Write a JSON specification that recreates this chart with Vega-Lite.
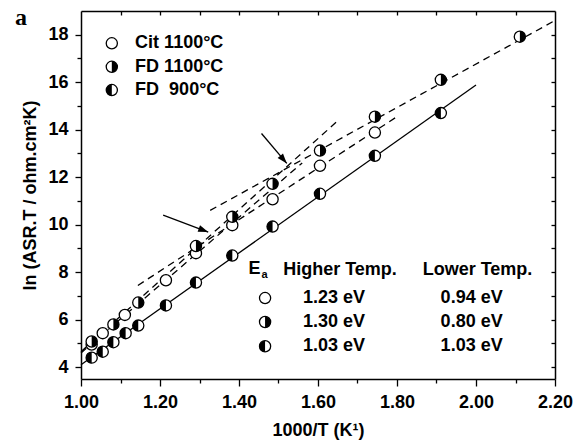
{
  "$schema": "https://vega.github.io/schema/vega-lite/v6.json",
  "width": 474,
  "height": 368,
  "autosize": "none",
  "padding": {"left": 81, "top": 11, "right": 20, "bottom": 69},
  "background": "white",
  "config": {
    "view": {"stroke": null},
    "font": "Liberation Sans",
    "axis": {"grid": false, "domainColor": "black", "domainWidth": 1.5, "tickColor": "black", "tickWidth": 1.3, "labelColor": "black", "titleColor": "black", "labelFont": "Liberation Sans", "titleFont": "Liberation Sans", "labelFontWeight": "bold", "titleFontWeight": "bold", "labelFontSize": 18, "titleFontSize": 18, "labelFlush": false, "labelOverlap": false}
  },
  "datasets": {
    "marks": [
      {"s": "Cit", "x": 1.027, "y": 4.95},
      {"s": "Cit", "x": 1.055, "y": 5.43},
      {"s": "Cit", "x": 1.111, "y": 6.2},
      {"s": "Cit", "x": 1.215, "y": 7.66},
      {"s": "Cit", "x": 1.291, "y": 8.8},
      {"s": "Cit", "x": 1.383, "y": 9.98},
      {"s": "Cit", "x": 1.485, "y": 11.07},
      {"s": "Cit", "x": 1.605, "y": 12.48},
      {"s": "Cit", "x": 1.744, "y": 13.88},
      {"s": "FD1100", "x": 1.027, "y": 5.08},
      {"s": "FD1100", "x": 1.082, "y": 5.8},
      {"s": "FD1100", "x": 1.145, "y": 6.72},
      {"s": "FD1100", "x": 1.291, "y": 9.1},
      {"s": "FD1100", "x": 1.383, "y": 10.33},
      {"s": "FD1100", "x": 1.485, "y": 11.72},
      {"s": "FD1100", "x": 1.605, "y": 13.12},
      {"s": "FD1100", "x": 1.744, "y": 14.55},
      {"s": "FD1100", "x": 1.911, "y": 16.1},
      {"s": "FD1100", "x": 2.111, "y": 17.92},
      {"s": "FD900", "x": 1.027, "y": 4.4},
      {"s": "FD900", "x": 1.055, "y": 4.65},
      {"s": "FD900", "x": 1.082, "y": 5.05},
      {"s": "FD900", "x": 1.113, "y": 5.43},
      {"s": "FD900", "x": 1.145, "y": 5.75},
      {"s": "FD900", "x": 1.215, "y": 6.6},
      {"s": "FD900", "x": 1.291, "y": 7.56},
      {"s": "FD900", "x": 1.383, "y": 8.7},
      {"s": "FD900", "x": 1.485, "y": 9.92},
      {"s": "FD900", "x": 1.605, "y": 11.3},
      {"s": "FD900", "x": 1.744, "y": 12.9},
      {"s": "FD900", "x": 1.911, "y": 14.7},
      {"s": "Cit", "x": 1.078, "y": 17.64},
      {"s": "FD1100", "x": 1.078, "y": 16.65},
      {"s": "FD900", "x": 1.078, "y": 15.67},
      {"s": "Cit", "x": 1.466, "y": 6.91},
      {"s": "FD1100", "x": 1.466, "y": 5.9},
      {"s": "FD900", "x": 1.466, "y": 4.88}
    ],
    "lines": [
      {"fit": "FD900", "x": 1.0, "y": 4.1},
      {"fit": "FD900", "x": 2.0, "y": 15.88},
      {"fit": "CitHigh", "x": 1.0, "y": 4.6},
      {"fit": "CitHigh", "x": 1.56, "y": 12.6},
      {"fit": "CitLow", "x": 1.144, "y": 7.44},
      {"fit": "CitLow", "x": 1.8, "y": 14.55},
      {"fit": "FD1100High", "x": 1.0, "y": 4.65},
      {"fit": "FD1100High", "x": 1.655, "y": 14.45},
      {"fit": "FD1100Low", "x": 1.327, "y": 10.6},
      {"fit": "FD1100Low", "x": 2.2, "y": 18.6}
    ],
    "arrows": [
      {"id": 1, "x": 1.208, "y": 10.4, "x2": 1.322, "y2": 9.69},
      {"id": 2, "x": 1.457, "y": 13.84, "x2": 1.521, "y2": 12.58}
    ],
    "legend": [
      {"t": "Cit 1100°C", "x": 1.137, "y": 17.64},
      {"t": "FD 1100°C", "x": 1.137, "y": 16.65},
      {"t": "FD\u00a0 900°C", "x": 1.137, "y": 15.67}
    ],
    "table": [
      {"t": "Higher Temp.", "x": 1.6557, "y": 8.1},
      {"t": "Lower Temp.", "x": 2.0038, "y": 8.1},
      {"t": "1.23 eV", "x": 1.6405, "y": 6.93},
      {"t": "0.94 eV", "x": 1.989, "y": 6.93},
      {"t": "1.30 eV", "x": 1.6405, "y": 5.92},
      {"t": "0.80 eV", "x": 1.989, "y": 5.92},
      {"t": "1.03 eV", "x": 1.6405, "y": 4.9},
      {"t": "1.03 eV", "x": 1.989, "y": 4.9}
    ],
    "ea": [{"t": "E", "x": 1.424, "y": 8.12}],
    "eaSub": [{"t": "a", "x": 1.4646, "y": 7.88}],
    "panel": [{"t": "a", "x": 0.848, "y": 18.41}]
  },
  "resolve": {"axis": {"x": "independent", "y": "independent"}},
  "layer": [
    {
      "data": {"name": "lines"},
      "transform": [{"filter": "datum.fit === 'FD900'"}],
      "mark": {"type": "line", "color": "black", "strokeWidth": 1.3},
      "encoding": {
        "x": {"field": "x", "type": "quantitative", "scale": {"domain": [1.0, 2.2], "nice": false, "zero": false},
          "axis": {"orient": "bottom", "values": [1.0, 1.2, 1.4, 1.6, 1.8, 2.0, 2.2], "format": ".2f", "tickSize": 7, "labelPadding": 7, "title": "1000/T (K¹)", "titlePadding": 10}},
        "y": {"field": "y", "type": "quantitative", "scale": {"domain": [3.5, 19], "nice": false, "zero": false},
          "axis": {"orient": "left", "values": [4, 6, 8, 10, 12, 14, 16, 18], "format": "d", "tickSize": 6, "labelPadding": 7, "title": "ln (ASR.T / ohm.cm²K)", "titlePadding": 8}},
        "detail": {"field": "fit"}
      }
    },
    {
      "data": {"name": "lines"},
      "transform": [{"filter": "datum.fit !== 'FD900'"}],
      "mark": {"type": "line", "color": "black", "strokeWidth": 1.3, "strokeDash": [7, 5]},
      "encoding": {
        "x": {"field": "x", "type": "quantitative", "scale": {"domain": [1.0, 2.2], "nice": false, "zero": false},
          "axis": {"orient": "bottom", "values": [1.1, 1.3, 1.5, 1.7, 1.9, 2.1], "labels": false, "domain": false, "tickSize": 4, "title": null}},
        "y": {"field": "y", "type": "quantitative", "scale": {"domain": [3.5, 19], "nice": false, "zero": false},
          "axis": {"orient": "left", "values": [5, 7, 9, 11, 13, 15, 17], "labels": false, "domain": false, "tickSize": 4, "title": null}},
        "detail": {"field": "fit"}
      }
    },
    {
      "data": {"name": "marks"},
      "mark": {"type": "point", "shape": "circle", "filled": true, "fill": "white", "stroke": "black", "strokeWidth": 1.3, "size": 125, "opacity": 1},
      "encoding": {
        "x": {"field": "x", "type": "quantitative", "scale": {"domain": [1.0, 2.2], "nice": false, "zero": false},
          "axis": {"orient": "top", "values": [1.1, 1.2, 1.3, 1.4, 1.5, 1.6, 1.7, 1.8, 1.9, 2.0, 2.1], "labels": false, "tickSize": -4, "title": null}},
        "y": {"field": "y", "type": "quantitative", "scale": {"domain": [3.5, 19], "nice": false, "zero": false},
          "axis": {"orient": "right", "values": [4, 5, 6, 7, 8, 9, 10, 11, 12, 13, 14, 15, 16, 17, 18], "labels": false, "tickSize": -4, "title": null}}
      }
    },
    {
      "data": {"name": "marks"},
      "transform": [{"filter": "datum.s === 'FD1100'"}],
      "mark": {"type": "point", "shape": "M0,-1A1,1,0,0,1,0,1Z", "filled": true, "fill": "black", "strokeWidth": 0, "size": 125, "opacity": 1},
      "encoding": {
        "x": {"field": "x", "type": "quantitative", "scale": {"domain": [1.0, 2.2], "nice": false, "zero": false}, "axis": null},
        "y": {"field": "y", "type": "quantitative", "scale": {"domain": [3.5, 19], "nice": false, "zero": false}, "axis": null}
      }
    },
    {
      "data": {"name": "marks"},
      "transform": [{"filter": "datum.s === 'FD900'"}],
      "mark": {"type": "point", "shape": "M0,-1A1,1,0,0,0,0,1Z", "filled": true, "fill": "black", "strokeWidth": 0, "size": 125, "opacity": 1},
      "encoding": {
        "x": {"field": "x", "type": "quantitative", "scale": {"domain": [1.0, 2.2], "nice": false, "zero": false}, "axis": null},
        "y": {"field": "y", "type": "quantitative", "scale": {"domain": [3.5, 19], "nice": false, "zero": false}, "axis": null}
      }
    },
    {
      "data": {"name": "arrows"},
      "mark": {"type": "rule", "color": "black", "strokeWidth": 1.3},
      "encoding": {
        "x": {"field": "x", "type": "quantitative", "scale": {"domain": [1.0, 2.2], "nice": false, "zero": false}, "axis": null},
        "y": {"field": "y", "type": "quantitative", "scale": {"domain": [3.5, 19], "nice": false, "zero": false}, "axis": null},
        "x2": {"field": "x2"},
        "y2": {"field": "y2"}
      }
    },
    {
      "data": {"name": "arrows"},
      "transform": [{"filter": "datum.id === 1"}],
      "mark": {"type": "point", "shape": "M0,0L-1,-0.35L-1,0.35Z", "filled": true, "fill": "black", "strokeWidth": 0, "size": 400, "opacity": 1, "angle": 20.5},
      "encoding": {
        "x": {"field": "x2", "type": "quantitative", "scale": {"domain": [1.0, 2.2], "nice": false, "zero": false}, "axis": null},
        "y": {"field": "y2", "type": "quantitative", "scale": {"domain": [3.5, 19], "nice": false, "zero": false}, "axis": null}
      }
    },
    {
      "data": {"name": "arrows"},
      "transform": [{"filter": "datum.id === 2"}],
      "mark": {"type": "point", "shape": "M0,0L-1,-0.35L-1,0.35Z", "filled": true, "fill": "black", "strokeWidth": 0, "size": 400, "opacity": 1, "angle": 49.8},
      "encoding": {
        "x": {"field": "x2", "type": "quantitative", "scale": {"domain": [1.0, 2.2], "nice": false, "zero": false}, "axis": null},
        "y": {"field": "y2", "type": "quantitative", "scale": {"domain": [3.5, 19], "nice": false, "zero": false}, "axis": null}
      }
    },
    {
      "data": {"name": "legend"},
      "mark": {"type": "text", "align": "left", "baseline": "middle", "font": "Liberation Sans", "fontWeight": "bold", "fontSize": 18, "color": "black"},
      "encoding": {
        "x": {"field": "x", "type": "quantitative", "scale": {"domain": [1.0, 2.2], "nice": false, "zero": false}, "axis": null},
        "y": {"field": "y", "type": "quantitative", "scale": {"domain": [3.5, 19], "nice": false, "zero": false}, "axis": null},
        "text": {"field": "t"}
      }
    },
    {
      "data": {"name": "table"},
      "mark": {"type": "text", "align": "center", "baseline": "middle", "font": "Liberation Sans", "fontWeight": "bold", "fontSize": 18, "color": "black"},
      "encoding": {
        "x": {"field": "x", "type": "quantitative", "scale": {"domain": [1.0, 2.2], "nice": false, "zero": false}, "axis": null},
        "y": {"field": "y", "type": "quantitative", "scale": {"domain": [3.5, 19], "nice": false, "zero": false}, "axis": null},
        "text": {"field": "t"}
      }
    },
    {
      "data": {"name": "ea"},
      "mark": {"type": "text", "align": "left", "baseline": "middle", "font": "Liberation Sans", "fontWeight": "bold", "fontSize": 18, "color": "black"},
      "encoding": {
        "x": {"field": "x", "type": "quantitative", "scale": {"domain": [1.0, 2.2], "nice": false, "zero": false}, "axis": null},
        "y": {"field": "y", "type": "quantitative", "scale": {"domain": [3.5, 19], "nice": false, "zero": false}, "axis": null},
        "text": {"field": "t"}
      }
    },
    {
      "data": {"name": "eaSub"},
      "mark": {"type": "text", "align": "center", "baseline": "middle", "font": "Liberation Sans", "fontWeight": "bold", "fontSize": 11, "color": "black"},
      "encoding": {
        "x": {"field": "x", "type": "quantitative", "scale": {"domain": [1.0, 2.2], "nice": false, "zero": false}, "axis": null},
        "y": {"field": "y", "type": "quantitative", "scale": {"domain": [3.5, 19], "nice": false, "zero": false}, "axis": null},
        "text": {"field": "t"}
      }
    },
    {
      "data": {"name": "panel"},
      "mark": {"type": "text", "align": "center", "baseline": "alphabetic", "font": "Liberation Serif", "fontWeight": "bold", "fontSize": 24, "color": "black"},
      "encoding": {
        "x": {"field": "x", "type": "quantitative", "scale": {"domain": [1.0, 2.2], "nice": false, "zero": false}, "axis": null},
        "y": {"field": "y", "type": "quantitative", "scale": {"domain": [3.5, 19], "nice": false, "zero": false}, "axis": null},
        "text": {"field": "t"}
      }
    }
  ]
}
